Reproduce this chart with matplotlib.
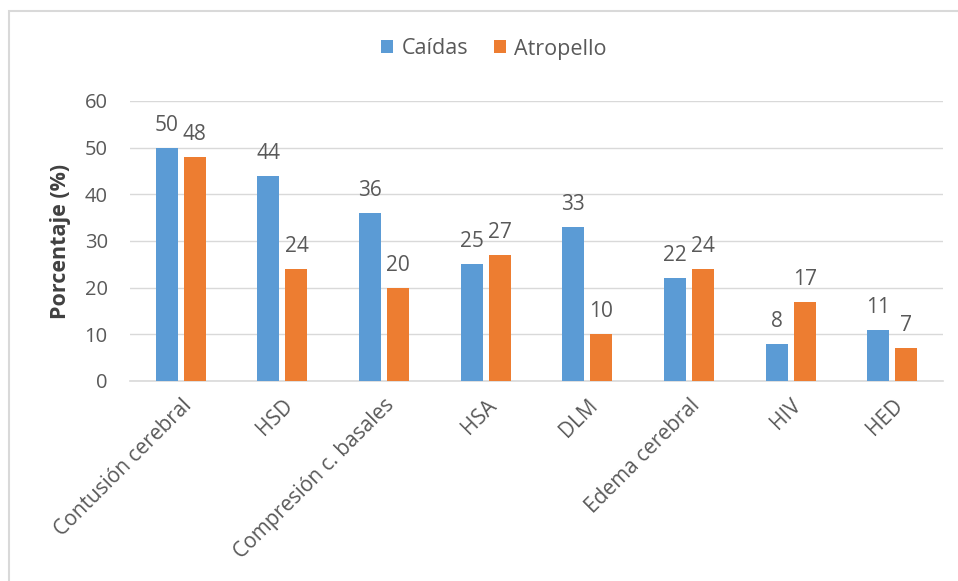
import matplotlib
matplotlib.use("Agg")
import matplotlib.pyplot as plt
from matplotlib.patches import Rectangle
import numpy as np

categories = ["Contusión cerebral", "HSD", "Compresión c. basales", "HSA",
              "DLM", "Edema cerebral", "HIV", "HED"]
caidas = [50, 44, 36, 25, 33, 22, 8, 11]
atropello = [48, 24, 20, 27, 10, 24, 17, 7]
yticks = [0, 10, 20, 30, 40, 50, 60]

BLUE = "#5b9bd5"
ORANGE = "#ed7d31"
TEXT = "#595959"

plt.rcParams["font.family"] = ["Open Sans", "DejaVu Sans"]

fig = plt.figure(figsize=(9.58, 5.81), dpi=100)
ax = fig.add_axes([130 / 958, 1 - 381 / 581, 813 / 958, 280 / 581])

x = np.arange(len(categories))
w = 0.217
off = 0.138
b1 = ax.bar(x - off, caidas, w, color=BLUE, label="Caídas", zorder=3)
b2 = ax.bar(x + off, atropello, w, color=ORANGE, label="Atropello", zorder=3)

for bars, vals in ((b1, caidas), (b2, atropello)):
    for r, v in zip(bars, vals):
        ax.text(r.get_x() + r.get_width() / 2, v + 2.6, str(v),
                ha="center", va="bottom", fontsize=15, color=TEXT)

ax.set_xlim(-0.5, len(categories) - 0.5)
ax.set_ylim(0, 60)
ax.set_yticks(yticks)
ax.set_yticklabels([str(t) for t in yticks], fontsize=14.5, color=TEXT)
ax.set_xticks(x)
ax.set_xticklabels(categories, rotation=45, ha="right", va="top",
                   rotation_mode="anchor", fontsize=15, color=TEXT)
ax.tick_params(axis="y", length=0, pad=16)
ax.tick_params(axis="x", length=0, pad=10)
ax.grid(axis="y", color="#d9d9d9", lw=1, zorder=0)
for s in ("top", "right", "left"):
    ax.spines[s].set_visible(False)
ax.spines["bottom"].set_color("#d9d9d9")
ax.spines["bottom"].set_linewidth(1.2)

ax.set_ylabel("Porcentaje (%)", fontsize=15.5, fontweight="bold", color="#404040",
              labelpad=10)

fig.legend(handles=[b1, b2], loc="center", bbox_to_anchor=(494 / 958, 1 - 49 / 581),
           ncol=2, frameon=False, fontsize=15.5, labelcolor=TEXT,
           handlelength=0.55, handleheight=0.55, handletextpad=0.4,
           columnspacing=1.2)

# chart frame (left and top edges visible in the reference)
fig.patches.append(Rectangle((9 / 958, -0.1), 1.2, 1.1 - 11 / 581,
                             transform=fig.transFigure, fill=False,
                             edgecolor="#d9d9d9", lw=1.5))

fig.savefig("out.png", dpi=100, facecolor="white")
